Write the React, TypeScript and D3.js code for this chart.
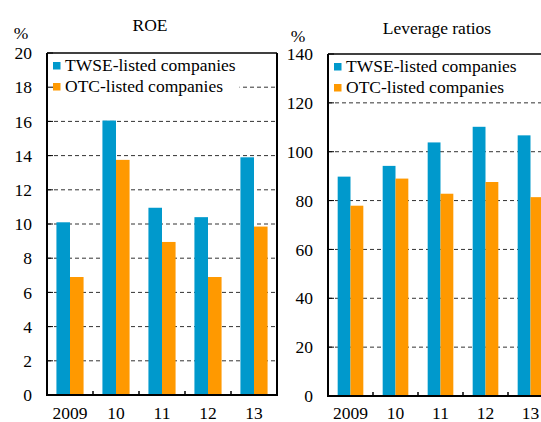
import React from "react";
import * as d3 from "d3";

const categories = ["2009", "10", "11", "12", "13"];
const seriesNames = ["TWSE-listed companies", "OTC-listed companies"];
const roeTWSE = [10.1, 16.05, 10.95, 10.4, 13.9];
const roeOTC = [6.9, 13.75, 8.95, 6.9, 9.85];
const levTWSE = [89.8, 94.2, 103.8, 110.2, 106.7];
const levOTC = [77.9, 89.0, 82.8, 87.6, 81.4];
const roeTicks = [0, 2, 4, 6, 8, 10, 12, 14, 16, 18, 20];
const levTicks = [0, 20, 40, 60, 80, 100, 120, 140];
const colors = ["#0099CC", "#FF9900"];

const FONT = '"Liberation Serif", "Times New Roman", Times, "DejaVu Serif", serif';

type PanelProps = {
  title: string;
  titleX: number;
  titleY: number;
  pctX: number;
  pctY: number;
  x0: number;
  x1: number;
  yTop: number;
  yBottom: number;
  ticks: number[];
  maxV: number;
  a: number[];
  b: number[];
  padding: number;
  legendW: number;
  legendH: number;
  showRight: boolean;
};

function Panel(p: PanelProps) {
  const x = d3
    .scaleBand<string>()
    .domain(categories)
    .range([p.x0, p.x1])
    .paddingInner(p.padding)
    .paddingOuter(p.padding / 2);
  const xs = d3
    .scaleBand<string>()
    .domain(seriesNames)
    .range([0, x.bandwidth()]);
  const y = d3.scaleLinear().domain([0, p.maxV]).range([p.yBottom, p.yTop]);
  const step = x.step();
  const data = [p.a, p.b];
  return (
    <g style={{ fontFamily: FONT, fontSize: "17.5px" }} fill="#000">
      <text x={p.titleX} y={p.titleY} textAnchor="middle">{p.title}</text>
      <text x={p.pctX} y={p.pctY} textAnchor="middle">%</text>
      {p.ticks.map((t) =>
        t > 0 && t < p.maxV ? (
          <line
            key={"g" + t}
            x1={p.x0}
            x2={p.x1}
            y1={y(t)}
            y2={y(t)}
            stroke="#333"
            strokeWidth={1}
            strokeDasharray="4,3"
          />
        ) : null
      )}
      {categories.map((c, i) =>
        data.map((arr, si) => (
          <rect
            key={c + si}
            x={(x(c) as number) + (xs(seriesNames[si]) as number)}
            y={y(arr[i])}
            width={xs.bandwidth()}
            height={p.yBottom - y(arr[i])}
            fill={colors[si]}
          />
        ))
      )}
      <rect
        x={p.x0 + 0.5}
        y={p.yTop}
        width={p.legendW}
        height={p.legendH}
        fill="#fff"
      />
      {seriesNames.map((s, si) => (
        <g key={s}>
          <rect
            x={p.x0 + 6}
            y={p.yTop + 9 + si * 21}
            width={7.5}
            height={7.5}
            fill={colors[si]}
          />
          <text x={p.x0 + 18} y={p.yTop + 18 + si * 21}>{s}</text>
        </g>
      ))}
      {p.ticks.map((t) => (
        <g key={"t" + t}>
          <line x1={p.x0} x2={p.x0 + 6} y1={y(t)} y2={y(t)} stroke="#000" strokeWidth={1} />
          <text x={p.x0 - 15} y={y(t)} dy="0.35em" textAnchor="end">{t}</text>
        </g>
      ))}
      {categories.map((c, i) => (
        <g key={"x" + c}>
          {i > 0 ? (
            <line
              x1={p.x0 + step * i}
              x2={p.x0 + step * i}
              y1={p.yBottom}
              y2={p.yBottom - 4}
              stroke="#000"
              strokeWidth={1.5}
            />
          ) : null}
          <text x={(x(c) as number) + x.bandwidth() / 2} y={419} textAnchor="middle">{c}</text>
        </g>
      ))}
      <line x1={p.x0} x2={p.x1} y1={p.yTop} y2={p.yTop} stroke="#000" strokeWidth={1.5} />
      <line x1={p.x0} x2={p.x0} y1={p.yTop} y2={p.yBottom + 1} stroke="#000" strokeWidth={2} />
      <line x1={p.x0 - 1} x2={p.x1} y1={p.yBottom} y2={p.yBottom} stroke="#000" strokeWidth={2} />
      {p.showRight ? (
        <line x1={p.x1} x2={p.x1} y1={p.yTop} y2={p.yBottom + 1} stroke="#000" strokeWidth={2} />
      ) : null}
    </g>
  );
}

export default function App() {
  return (
    <svg
      width={541}
      height={422}
      style={{ position: "absolute", left: 0, top: 0, background: "#fff" }}
    >
      <rect x={0} y={0} width={541} height={422} fill="#fff" />
      <Panel
        title="ROE"
        titleX={150}
        titleY={31}
        pctX={21}
        pctY={39}
        x0={47}
        x1={277}
        yTop={53}
        yBottom={395}
        ticks={roeTicks}
        maxV={20}
        a={roeTWSE}
        b={roeOTC}
        padding={0.41}
        legendW={192}
        legendH={45}
        showRight={true}
      />
      <Panel
        title="Leverage ratios"
        titleX={437}
        titleY={34}
        pctX={298}
        pctY={42}
        x0={328}
        x1={553}
        yTop={54}
        yBottom={396}
        ticks={levTicks}
        maxV={140}
        a={levTWSE}
        b={levOTC}
        padding={0.43}
        legendW={230}
        legendH={45}
        showRight={false}
      />
    </svg>
  );
}
